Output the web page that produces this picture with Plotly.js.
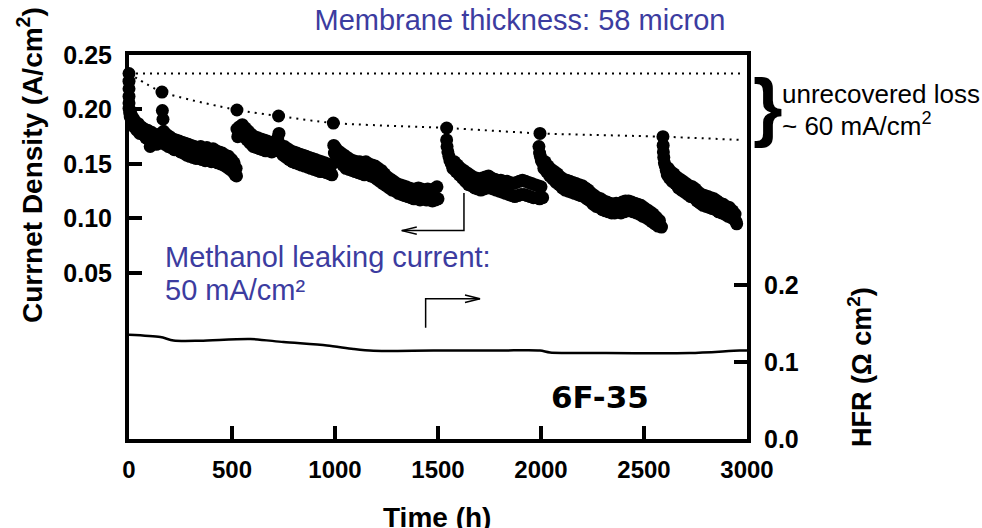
<!DOCTYPE html>
<html>
<head>
<meta charset="utf-8">
<script src="https://cdn.plot.ly/plotly-3.0.1.min.js"></script>
<style>html,body{margin:0;padding:0;background:#fff;}</style>
</head>
<body>
<div id="chart" style="width:982px;height:528px;"></div>
<script>
// ---- Data ----
const seg1Time = [0,0,0,0,0,0,3,6,10,15,20,25,30,38,45,52,60,68,75,82,90,98,103,110,118,125,133,140,148,155,160,162,165,168,175,183,190,198,205,213,220,228,235,243,250,258,265,273,280,288,295,303,310,318,325,333,340,348,355,363,370,378,385,393,400,408,415,423,430,438,445,453,460,468,475,483,490,498,505,510,515,520,522];
const seg1Current = [0.233,0.226,0.219,0.212,0.206,0.201,0.197,0.193,0.196,0.188,0.192,0.184,0.189,0.181,0.187,0.178,0.184,0.177,0.182,0.174,0.181,0.172,0.166,0.179,0.170,0.177,0.168,0.176,0.169,0.178,0.216,0.199,0.191,0.180,0.168,0.177,0.166,0.175,0.165,0.173,0.163,0.172,0.164,0.171,0.161,0.170,0.160,0.169,0.158,0.168,0.157,0.167,0.156,0.166,0.155,0.165,0.155,0.166,0.154,0.164,0.153,0.165,0.154,0.163,0.152,0.164,0.153,0.162,0.151,0.161,0.150,0.160,0.149,0.158,0.147,0.157,0.145,0.154,0.143,0.151,0.140,0.146,0.139];

const seg2Time = [524,524,528,535,542,550,558,565,573,580,588,595,603,610,618,625,633,640,648,655,663,670,678,685,693,700,708,715,722,726,728,733,740,748,755,763,770,778,785,793,800,808,815,823,830,838,845,853,860,868,875,883,890,898,905,913,920,928,935,943,950,958,965,973,980,985];
const seg2Current = [0.1995,0.182,0.175,0.184,0.176,0.186,0.175,0.183,0.172,0.180,0.169,0.177,0.166,0.175,0.165,0.174,0.164,0.173,0.163,0.172,0.162,0.171,0.162,0.170,0.161,0.169,0.162,0.170,0.174,0.194,0.178,0.168,0.165,0.158,0.166,0.156,0.164,0.154,0.162,0.152,0.161,0.151,0.160,0.150,0.159,0.149,0.158,0.148,0.157,0.147,0.156,0.146,0.155,0.145,0.154,0.144,0.153,0.143,0.152,0.143,0.151,0.142,0.150,0.141,0.148,0.140];

const seg3Time = [992,994,997,1002,1008,1015,1022,1030,1038,1045,1053,1060,1068,1075,1083,1090,1098,1105,1113,1120,1128,1135,1143,1150,1158,1165,1173,1180,1188,1195,1203,1210,1218,1225,1233,1240,1248,1255,1263,1270,1278,1285,1293,1300,1308,1315,1323,1330,1338,1345,1353,1360,1368,1375,1383,1390,1398,1405,1413,1420,1428,1435,1443,1450,1458,1465,1473,1480,1488,1495,1500];
const seg3Current = [0.1875,0.167,0.160,0.165,0.156,0.162,0.152,0.160,0.149,0.158,0.146,0.156,0.145,0.154,0.144,0.153,0.143,0.152,0.142,0.152,0.141,0.151,0.140,0.152,0.141,0.150,0.139,0.149,0.138,0.148,0.136,0.146,0.134,0.144,0.132,0.141,0.130,0.138,0.128,0.136,0.126,0.134,0.125,0.132,0.123,0.131,0.122,0.130,0.121,0.129,0.120,0.128,0.119,0.127,0.118,0.127,0.118,0.128,0.117,0.127,0.118,0.126,0.117,0.127,0.117,0.126,0.116,0.127,0.117,0.129,0.118];

const seg4Time = [1542,1542,1544,1548,1553,1558,1565,1572,1580,1588,1595,1603,1610,1618,1625,1633,1640,1648,1655,1663,1670,1678,1685,1693,1700,1708,1715,1723,1730,1738,1745,1753,1760,1768,1775,1783,1790,1798,1805,1813,1820,1828,1835,1843,1850,1858,1865,1873,1880,1888,1895,1903,1910,1918,1925,1933,1940,1948,1955,1963,1970,1978,1985,1993,2000,2008];
const seg4Current = [0.183,0.172,0.166,0.161,0.157,0.153,0.150,0.146,0.152,0.143,0.149,0.140,0.146,0.137,0.144,0.134,0.142,0.131,0.140,0.130,0.138,0.128,0.137,0.127,0.136,0.126,0.137,0.127,0.138,0.128,0.139,0.128,0.137,0.127,0.136,0.126,0.135,0.125,0.135,0.124,0.134,0.123,0.134,0.122,0.133,0.121,0.132,0.120,0.133,0.121,0.134,0.122,0.135,0.122,0.134,0.121,0.133,0.120,0.132,0.119,0.131,0.119,0.130,0.118,0.129,0.119];

const seg5Time = [1995,1990,1993,1997,2002,2008,2014,2020,2027,2035,2042,2050,2058,2065,2073,2080,2088,2095,2103,2110,2118,2125,2133,2140,2148,2155,2163,2170,2178,2185,2193,2200,2208,2215,2223,2230,2238,2245,2253,2260,2268,2275,2283,2290,2298,2305,2313,2320,2328,2335,2343,2350,2358,2365,2373,2380,2388,2395,2403,2410,2418,2425,2433,2440,2448,2455,2463,2470,2478,2485,2493,2500,2508,2515,2523,2530,2538,2545,2553,2560,2568,2575,2580,2585];
const seg5Current = [0.178,0.166,0.160,0.157,0.153,0.151,0.146,0.152,0.143,0.148,0.139,0.145,0.136,0.143,0.133,0.141,0.131,0.138,0.128,0.136,0.126,0.135,0.125,0.134,0.124,0.133,0.123,0.132,0.122,0.131,0.121,0.130,0.120,0.128,0.118,0.126,0.116,0.123,0.113,0.121,0.111,0.119,0.110,0.118,0.108,0.116,0.107,0.115,0.106,0.114,0.105,0.113,0.105,0.114,0.106,0.113,0.105,0.115,0.106,0.116,0.107,0.116,0.107,0.115,0.106,0.114,0.105,0.113,0.104,0.112,0.102,0.110,0.101,0.108,0.099,0.106,0.097,0.104,0.095,0.101,0.093,0.098,0.093,0.092];

const seg6Time = [2592,2593,2594,2596,2599,2603,2608,2613,2618,2623,2630,2637,2645,2652,2660,2667,2675,2682,2690,2697,2705,2712,2720,2727,2735,2742,2750,2757,2765,2772,2780,2787,2795,2802,2810,2817,2825,2832,2840,2847,2855,2862,2870,2877,2885,2892,2900,2907,2915,2922,2930,2937,2942,2947,2950];
const seg6Current = [0.175,0.167,0.161,0.156,0.151,0.148,0.144,0.140,0.146,0.137,0.143,0.134,0.141,0.132,0.138,0.128,0.136,0.126,0.134,0.124,0.132,0.122,0.130,0.120,0.129,0.119,0.127,0.116,0.124,0.114,0.122,0.112,0.121,0.111,0.120,0.110,0.119,0.109,0.118,0.108,0.116,0.106,0.114,0.105,0.113,0.104,0.111,0.102,0.110,0.101,0.107,0.099,0.104,0.097,0.095];

// initial-performance reference line and envelope of recovered peaks (dotted)
const initialTime = [0, 2975];
const initialCurrent = [0.233, 0.233];
const envelopeTime = [0,160,524,726,992,1542,1995,2592,2975];
const envelopeCurrent = [0.233,0.216,0.1995,0.194,0.1875,0.183,0.178,0.175,0.172];

// HFR (right axis)
const hfrTime = [0,152,216,346,589,750,961,1089,1186,1477,1802,1995,2044,2286,2722,2964,3000];
const hfrValue = [0.1355,0.1325,0.128,0.1277,0.130,0.126,0.1216,0.117,0.1147,0.115,0.115,0.115,0.1125,0.1117,0.1117,0.115,0.115];

// ticks
const xTicks = [0,500,1000,1500,2000,2500,3000];
const yTicks = [0.05,0.10,0.15,0.20,0.25];
const yTickText = ['0.05','0.10','0.15','0.20','0.25'];
const y2Ticks = [0,0.1,0.2];
const y2TickText = ['0.0','0.1','0.2'];

// ---- Build ----
const allTime = [].concat(seg1Time, seg2Time, seg3Time, seg4Time, seg5Time, seg6Time);
const allCurrent = [].concat(seg1Current, seg2Current, seg3Current, seg4Current, seg5Current, seg6Current);

const FONT = 'Liberation Sans, Arial, sans-serif';
const BLUE = '#3c3ca0';

const traces = [
  {x: hfrTime, y: hfrValue, yaxis: 'y2', type: 'scatter', mode: 'lines',
   line: {color: '#000', width: 2.5, shape: 'spline', smoothing: 0.8}, hoverinfo: 'skip'},
  {x: initialTime, y: initialCurrent, type: 'scatter', mode: 'lines',
   line: {color: '#000', width: 2, dash: '2px,5px'}, hoverinfo: 'skip'},
  {x: envelopeTime, y: envelopeCurrent, type: 'scatter', mode: 'lines',
   line: {color: '#000', width: 2, dash: '2px,5px', shape: 'spline', smoothing: 0.6}, hoverinfo: 'skip'},
  {x: allTime, y: allCurrent, type: 'scatter', mode: 'markers', cliponaxis: false,
   marker: {color: '#000', size: 13, line: {width: 0}}}
];

const px = v => (v - 129) / 618;      // pixel -> paper x
const py = v => (439 - v) / 384;      // pixel -> paper y

const layout = {
  width: 982, height: 528,
  margin: {l: 129, r: 235, t: 55, b: 89, pad: 0},
  paper_bgcolor: '#fff', plot_bgcolor: '#fff',
  showlegend: false,
  font: {family: FONT, color: '#000'},
  title: {text: 'Membrane thickness: 58 micron', x: 520/982, xanchor: 'center',
          y: 1 - 20/528, yanchor: 'middle', font: {family: FONT, size: 29, color: BLUE}},
  xaxis: {range: [0, 3000], tickvals: xTicks, ticks: 'inside', ticklen: 13, tickwidth: 4,
          tickcolor: '#000', showline: true, linewidth: 4, linecolor: '#000', mirror: true,
          showgrid: false, zeroline: false, ticklabelstandoff: 6,
          tickfont: {family: FONT, size: 24, weight: 'bold'}},
  yaxis: {range: [-0.1025, 0.25], tickvals: yTicks, ticktext: yTickText, ticks: 'inside',
          ticklen: 13, tickwidth: 4, tickcolor: '#000', showline: true, linewidth: 4,
          linecolor: '#000', showgrid: false, zeroline: false, ticklabelstandoff: 8,
          tickfont: {family: FONT, size: 25, weight: 'bold'}},
  yaxis2: {range: [0, 0.499], overlaying: 'y', side: 'right', tickvals: y2Ticks, ticktext: y2TickText,
           ticks: 'inside', ticklen: 13, tickwidth: 4, tickcolor: '#000', showline: true,
           linewidth: 4, linecolor: '#000', showgrid: false, zeroline: false, ticklabelstandoff: 8,
           tickfont: {family: FONT, size: 25, weight: 'bold'}},
  annotations: [
    {xref: 'paper', yref: 'paper', x: px(30), y: py(165), text: 'Currnet Density (A/cm<sup>2</sup>)',
     textangle: -90, showarrow: false, xanchor: 'center', yanchor: 'middle',
     font: {family: FONT, size: 28, weight: 'bold'}},
    {xref: 'paper', yref: 'paper', x: px(860), y: py(367), text: 'HFR (\u03A9 cm<sup>2</sup>)',
     textangle: -90, showarrow: false, xanchor: 'center', yanchor: 'middle',
     font: {family: FONT, size: 27, weight: 'bold'}},
    {xref: 'paper', yref: 'paper', x: px(437), y: py(517), text: 'Time (h)',
     showarrow: false, xanchor: 'center', yanchor: 'middle',
     font: {family: FONT, size: 28, weight: 'bold'}},
    {xref: 'paper', yref: 'paper', x: px(163), y: py(257), text: 'Methanol leaking current:',
     showarrow: false, xanchor: 'left', yanchor: 'middle',
     font: {family: FONT, size: 29, color: BLUE}},
    {xref: 'paper', yref: 'paper', x: px(163), y: py(290), text: '50 mA/cm\u00B2',
     showarrow: false, xanchor: 'left', yanchor: 'middle',
     font: {family: FONT, size: 29, color: BLUE}},
    {xref: 'paper', yref: 'paper', x: px(600), y: py(397), text: '6F-35',
     showarrow: false, xanchor: 'center', yanchor: 'middle',
     font: {family: 'DejaVu Sans, sans-serif', size: 31, weight: 'bold'}},
    {xref: 'paper', yref: 'paper', x: px(780), y: py(94), text: 'unrecovered loss',
     showarrow: false, xanchor: 'left', yanchor: 'middle',
     font: {family: FONT, size: 26}},
    {xref: 'paper', yref: 'paper', x: px(780), y: py(124), text: '~ 60 mA/cm<sup>2</sup>',
     showarrow: false, xanchor: 'left', yanchor: 'middle',
     font: {family: FONT, size: 26}},
    {xref: 'paper', yref: 'paper', x: px(768), y: py(105), text: '}',
     showarrow: false, xanchor: 'center', yanchor: 'middle',
     font: {family: FONT, size: 76, weight: 'bold'}}
  ],
  shapes: [
    {type: 'path', xref: 'x', yref: 'y', path: 'M 1626,0.1234 L 1626,0.0888 L 1324,0.0888',
     line: {color: '#000', width: 1.5}},
    {type: 'path', xref: 'x', yref: 'y', path: 'M 1397,0.0922 L 1324,0.0888 L 1397,0.0854',
     line: {color: '#000', width: 1.5}},
    {type: 'path', xref: 'x', yref: 'y2', path: 'M 1440,0.1445 L 1440,0.1823 L 1704,0.1823',
     line: {color: '#000', width: 1.5}},
    {type: 'path', xref: 'x', yref: 'y2', path: 'M 1631,0.1871 L 1704,0.1823 L 1631,0.1775',
     line: {color: '#000', width: 1.5}}
  ]
};

Plotly.newPlot('chart', traces, layout, {displayModeBar: false, staticPlot: true});
</script>
</body>
</html>
